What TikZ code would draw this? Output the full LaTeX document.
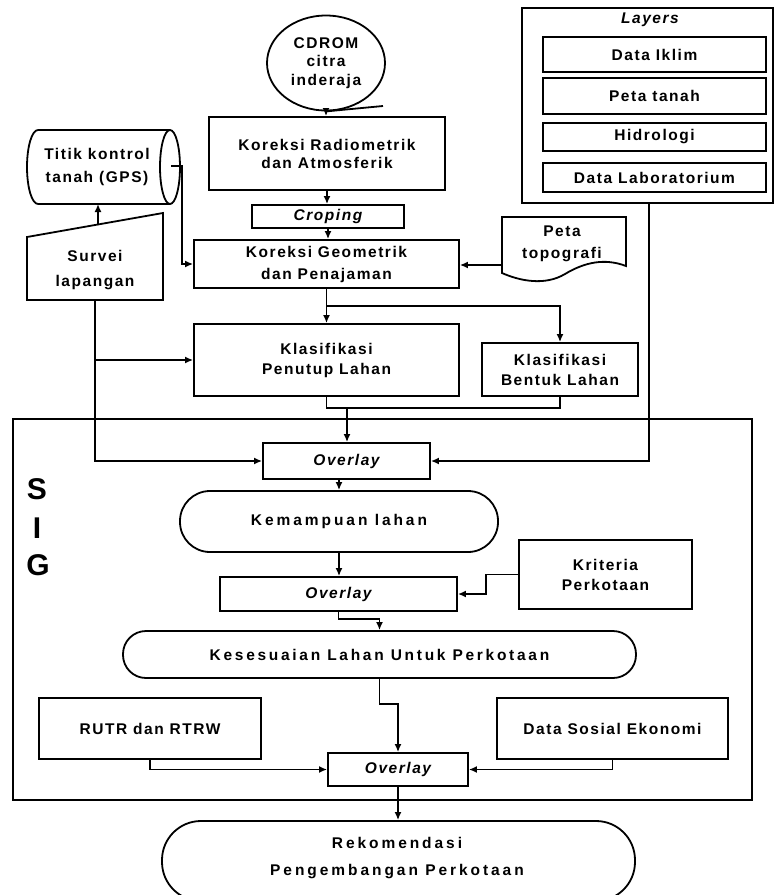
\documentclass[tikz,border=0pt]{standalone}
\usepackage{fontspec}
\newfontfamily\dfont[LetterSpace=10]{Liberation Sans}
\newfontfamily\bigfont{Liberation Sans}
\usetikzlibrary{arrows.meta,shapes.geometric}
\begin{document}
\begin{tikzpicture}[x=1pt,y=-1pt,line width=1.8pt,
  txt/.style={inner sep=0pt,align=center,font=\dfont\bfseries\fontsize{15.5}{20}\selectfont},
  box/.style={txt,draw,rectangle},
  stad/.style={txt,draw,rectangle},
  itx/.style={font=\dfont\bfseries\itshape\fontsize{15.5}{20}\selectfont},
  arr/.style={-{Latex[length=8pt,width=7pt]}},
  sigl/.style={inner sep=0pt,font=\bigfont\bfseries\fontsize{30}{30}\selectfont}]
\fill[white] (0,0) rectangle (775,895);
\useasboundingbox (0,0) rectangle (775,895);

% CDROM
\node[txt,draw,ellipse,minimum width=118pt,minimum height=95pt,
  font=\dfont\bfseries\fontsize{15.5}{18.5}\selectfont] (cd) at (326,63) {CDROM\\citra\\inderaja};
\coordinate (cdtail) at (383,106);
\draw (cd.south) -- (cdtail);

% main column top
\node[box,minimum width=236pt,minimum height=73pt,font=\dfont\bfseries\fontsize{15.5}{18}\selectfont] (kr) at (327,153.5) {Koreksi Radiometrik\\dan Atmosferik};
\node[box,minimum width=152pt,minimum height=23pt,itx] (crop) at (328,216.5) {Croping};
\node[box,minimum width=265pt,minimum height=48pt,font=\dfont\bfseries\fontsize{15.5}{22}\selectfont] (kg) at (326.5,264) {Koreksi Geometrik\\dan Penajaman};

% GPS cylinder
\draw (38,130) -- (170,130) (38,204) -- (170,204);
\draw (170,167) ellipse [x radius=10, y radius=37];
\draw (38,130) arc[start angle=270,end angle=90,x radius=11,y radius=37];
\node[txt,font=\dfont\bfseries\fontsize{15.5}{23}\selectfont] (gps) at (97,166.5) {Titik kontrol\\tanah (GPS)};
\coordinate (gpsc) at (171,166);
\coordinate (gpsb) at (98,204);

% Survei lapangan
\draw (27,237) -- (163,213) -- (163,300) -- (27,300) -- cycle;
\node[txt,font=\dfont\bfseries\fontsize{15.5}{25}\selectfont] (surv) at (95,270.5) {Survei\\lapangan};
\coordinate (svtop) at (98,225);
\coordinate (svb) at (95,300);

% Peta topografi
\draw (502,217) -- (626,217) -- (626,266)
  .. controls (605,258) and (585,262) .. (565,274)
  .. controls (545,286) and (520,281) .. (502,273) -- cycle;
\node[txt,font=\dfont\bfseries\fontsize{15.5}{22}\selectfont] (topo) at (562,244) {Peta\\topografi};
\coordinate (topoL) at (502,265);

% Layers
\node[draw,rectangle,inner sep=0pt,minimum width=251pt,minimum height=195pt] (lay) at (647.5,105.5) {};
\node[txt,itx] (layt) at (650,20) {Layers};
\node[box,minimum width=223pt,minimum height=35pt] (l1) at (654.5,54.5) {Data Iklim};
\node[box,minimum width=223pt,minimum height=36pt] (l2) at (654.5,96) {Peta tanah};
\node[box,minimum width=223pt,minimum height=28pt] (l3) at (654.5,137) {Hidrologi};
\node[box,minimum width=223pt,minimum height=29pt] (l4) at (654.5,177.5) {Data Laboratorium};
\coordinate (layb) at (649,203);

% Klasifikasi
\node[box,minimum width=265pt,minimum height=72pt] (kp) at (326.5,360) {Klasifikasi\\Penutup Lahan};
\node[box,minimum width=156pt,minimum height=53pt] (bl) at (560,369.5) {Klasifikasi\\Bentuk Lahan};
\coordinate (br) at (327,306);
\coordinate (mrg) at (347,407);

% SIG
\node[draw,rectangle,inner sep=0pt,minimum width=739pt,minimum height=381pt] (sig) at (382.5,609.5) {};
\node[sigl] (s1) at (37,489) {S};
\node[sigl] (s2) at (37,528) {I};
\node[sigl] (s3) at (38,565) {G};

\node[box,minimum width=167pt,minimum height=36pt,itx] (ov1) at (346.5,461) {Overlay};
\node[stad,minimum width=318pt,minimum height=61pt,rounded corners=30pt,
  font=\dfont\bfseries\fontsize{15.5}{20}\selectfont\addfontfeature{LetterSpace=19}] (kem) at (339,521.5) {Kemampuan lahan};
\node[box,minimum width=173pt,minimum height=69pt] (krit) at (605.5,574.5) {Kriteria\\Perkotaan};
\node[box,minimum width=237pt,minimum height=34pt,itx] (ov2) at (338.5,594) {Overlay};
\node[stad,minimum width=513pt,minimum height=47pt,rounded corners=23pt,
  font=\dfont\bfseries\fontsize{15.5}{20}\selectfont\addfontfeature{LetterSpace=17.5}] (kes) at (379.5,654.5) {Kesesuaian Lahan Untuk Perkotaan};
\node[box,minimum width=222pt,minimum height=61pt] (rutr) at (150,728.5) {RUTR dan RTRW};
\node[box,minimum width=231pt,minimum height=61pt] (ds) at (612.5,728.5) {Data Sosial Ekonomi};
\node[box,minimum width=140pt,minimum height=33pt,itx] (ov3) at (398,769.5) {Overlay};

\begin{scope}
\clip (0,0) rectangle (775,895);
\node[draw,rectangle,inner sep=0pt,minimum width=473pt,minimum height=80pt,rounded corners=39pt] (rek) at (398.5,861) {};
\end{scope}
\node[txt,font=\dfont\bfseries\fontsize{15.5}{27}\selectfont\addfontfeature{LetterSpace=19}] (rekt) at (397,858.5) {Rekomendasi\\Pengembangan Perkotaan};

% connectors
\draw[arr] (cd.south) -- (cd.south |- kr.north);
\draw[arr] (kr.south) -- (kr.south |- crop.north);
\draw[arr] (crop.south) -- (crop.south |- kg.north);
\draw[arr] (gpsc) -- (182,166) |- (kg.west);
\draw[arr] (svtop) -- (gpsb);
\draw[arr] (topoL) -- (topoL -| kg.east);
\draw[arr] (kg.south) -- (kg.south |- kp.north);
\draw[arr] (br) -| (bl.north);
\draw[arr] (svb) |- (ov1.west);
\draw[arr] (svb |- kp.west) -- (kp.west);
\draw[arr] (layb) |- (ov1.east);
\draw (kp.south) -- ++(0,11) -| (bl.south);
\draw[arr] (mrg) -- (mrg |- ov1.north);
\draw[arr] (kem.north |- ov1.south) -- (kem.north);
\draw[arr] (kem.south) -- (kem.south |- ov2.north);
\draw[arr] (krit.west) -- ++(-32,0) |- (ov2.east);
\draw[arr] (ov2.south) -- ++(0,7) -| (kes.north);
\draw[arr] (kes.south) -- ++(0,25) -| (ov3.north);
\draw[arr] (rutr.south) |- (ov3.west);
\draw[arr] (ds.south) |- (ov3.east);
\draw[arr] (ov3.south) -- (ov3.south |- rek.north);
\end{tikzpicture}
\end{document}
